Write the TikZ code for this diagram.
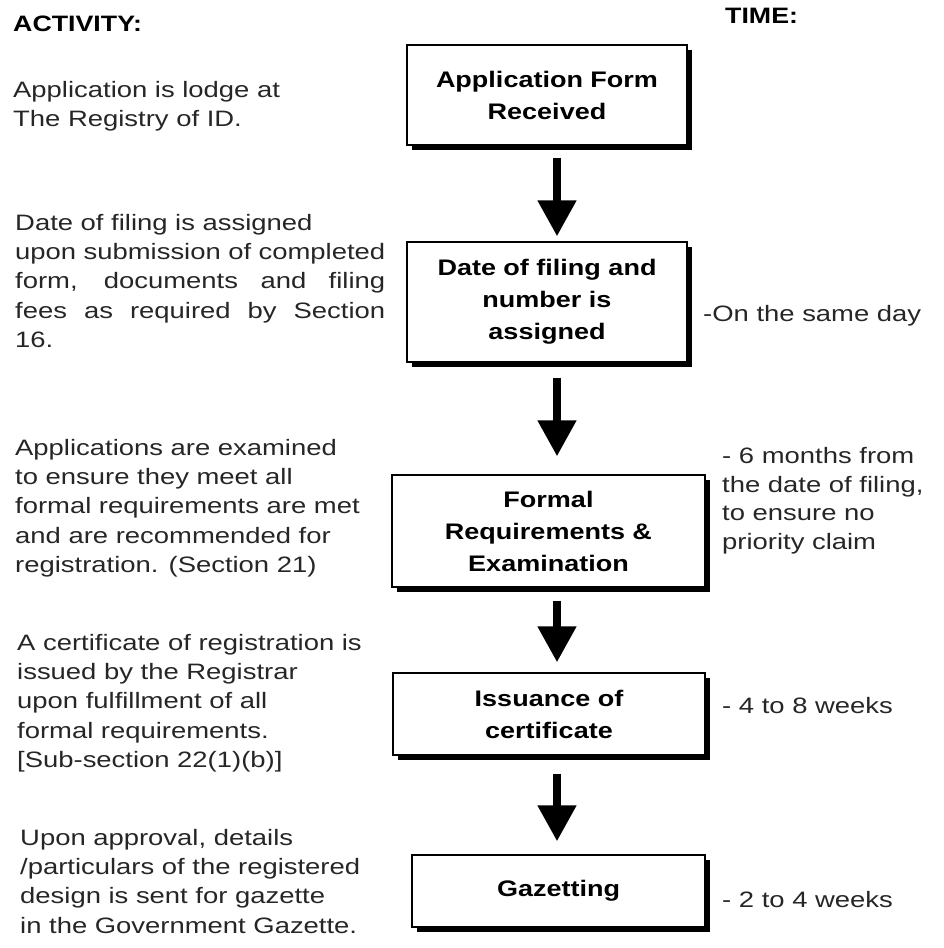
\documentclass[tikz,border=0pt]{standalone}
\usepackage{fontspec}
\setmainfont{Liberation Sans}[FakeStretch=1.23, BoldFeatures={FakeStretch=1.2}]
\usetikzlibrary{arrows.meta,shadows}
\begin{document}
\begin{tikzpicture}[x=1pt,y=-1pt,
  box/.style={draw=black, line width=1.4pt, fill=white, inner sep=0pt, align=center,
    font=\fontsize{22.5}{32}\selectfont\bfseries,
    drop shadow={shadow xshift=5pt, shadow yshift=-5pt, fill=black, opacity=1}},
  desc/.style={anchor=north west, inner sep=0pt, align=left, text=black!85,
    font=\fontsize{22.3}{29.3}\selectfont},
  head/.style={anchor=north west, inner sep=0pt, text=black,
    font=\fontsize{22.3}{29.3}\selectfont\bfseries},
  arr/.style={line width=8pt, -{Triangle[width=37pt,length=36pt]}}
]
\useasboundingbox (0,0) rectangle (943,948);

% headings
\node[head] (hact) at (13,16) {ACTIVITY:};
\node[head] (htime) at (725,8) {TIME:};

% boxes
\node[box, minimum width=280pt, minimum height=100pt] (b1) at (547,95) {Application Form\\Received};
\node[box, minimum width=280pt, minimum height=120pt] (b2) at (547,302) {Date of filing and\\number is\\assigned};
\node[box, minimum width=313pt, minimum height=112pt] (b3) at (548.5,531) {Formal\\Requirements \&\\Examination};
\node[box, minimum width=312pt, minimum height=82pt] (b4) at (549,714) {Issuance of\\certificate};
\node[box, minimum width=293pt, minimum height=72pt] (b5) at (558.5,891) {Gazetting};

% arrows
\coordinate (ax) at (557,0);
\draw[arr, shorten <=12pt, shorten >=5pt] (b1.south -| ax) -- (b2.north -| ax);
\draw[arr, shorten <=15pt, shorten >=18pt] (b2.south -| ax) -- (b3.north -| ax);
\draw[arr, shorten <=13pt, shorten >=10pt] (b3.south -| ax) -- (b4.north -| ax);
\draw[arr, shorten <=18pt, shorten >=13pt] (b4.south -| ax) -- (b5.north -| ax);

% activity descriptions
\node[desc] (a1) at (13,81) {Application is lodge at\\The Registry of ID.};
\node[desc] (a2) at (15,214) {Date of filing is assigned\\
\makebox[370pt][s]{upon submission of completed}\\
\makebox[370pt][s]{form, documents and filing}\\
\makebox[370pt][s]{fees as required by Section}\\
16.};
\node[desc] (a3) at (15,439) {Applications are examined\\to ensure they meet all\\formal requirements are met\\and are recommended for\\registration. (Section 21)};
\node[desc] (a4) at (17,634) {A certificate of registration is\\issued by the Registrar\\upon fulfillment of all\\formal requirements.\\{[Sub-section 22(1)(b)]}};
\node[desc] (a5) at (20,829) {Upon approval, details\\/particulars of the registered\\design is sent for gazette\\in the Government Gazette.};

% time descriptions
\node[desc] (t2) at (703,305) {-On the same day};
\node[desc, font=\fontsize{22.3}{28.7}\selectfont] (t3) at (722,447) {- 6 months from\\the date of filing,\\to ensure no\\priority claim};
\node[desc] (t4) at (722,697) {- 4 to 8 weeks};
\node[desc] (t5) at (722,891) {- 2 to 4 weeks};
\end{tikzpicture}
\end{document}
